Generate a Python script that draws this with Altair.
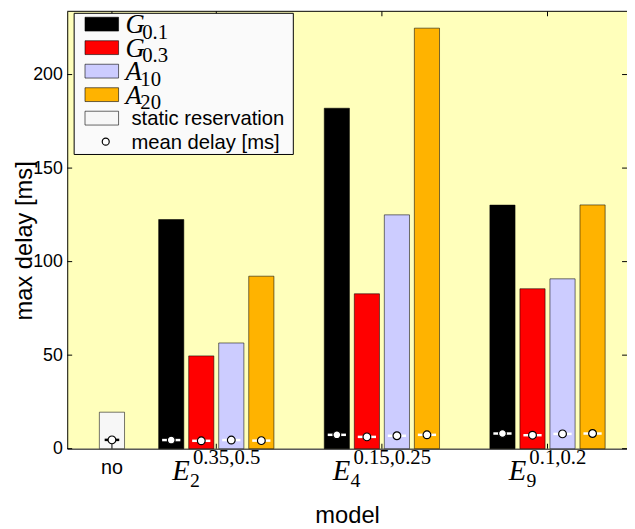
import altair as alt
import pandas as pd

# ---------------- data ----------------
group_sub = ["2", "4", "9"]
group_sup = ["0.35,0.5", "0.15,0.25", "0.1,0.2"]
series = ["G0.1", "G0.3", "A10", "A20"]
series_base = ["G", "G", "A", "A"]
series_subscript = ["0.1", "0.3", "10", "20"]
series_colors = ["#000000", "#FF0000", "#CCCCFF", "#FFB300"]

max_g01 = [122.5, 182.0, 130.2]
max_g03 = [49.6, 82.8, 85.5]
max_a10 = [56.5, 125.0, 90.8]
max_a20 = [92.2, 224.8, 130.3]

mean_g01 = [4.6, 7.4, 8.1]
mean_g03 = [4.2, 6.3, 7.2]
mean_a10 = [4.6, 6.9, 7.9]
mean_a20 = [4.3, 7.4, 8.1]

static_label = "no"
static_name = "static reservation"
static_color = "#F7F7F7"
static_max = 19.5
static_mean = 4.7

mean_name = "mean delay [ms]"
y_ticks = [0, 50, 100, 150, 200]

# ---------------- layout ----------------
W, H = 567, 443
XMIN, XMAX = 0.1, 3.48
YMAX = 233.8
PX = W / (XMAX - XMIN)
group_pos = [1, 2, 3]
static_pos = 0.37
offsets = [-0.272, -0.0906, 0.0906, 0.272]
bar_w = 0.152
err_half = 0.055

SANS = "Liberation Sans"
SERIF = "Liberation Serif"

maxes = [max_g01, max_g03, max_a10, max_a20]
means = [mean_g01, mean_g03, mean_a10, mean_a20]

bar_rows, err_rows = [], []
bar_rows.append({"series": static_name, "x": static_pos - bar_w / 2,
                 "x2": static_pos + bar_w / 2, "y": static_max})
err_rows.append({"x": static_pos - err_half * 0.8, "x2": static_pos + err_half * 0.8,
                 "xc": static_pos, "y": static_mean, "lc": "black"})
for gi, gp in enumerate(group_pos):
    for si, s in enumerate(series):
        c = gp + offsets[si]
        bar_rows.append({"series": s, "x": c - bar_w / 2, "x2": c + bar_w / 2,
                         "y": maxes[si][gi]})
        err_rows.append({"x": c - err_half, "x2": c + err_half, "xc": c,
                         "y": means[si][gi], "lc": "white"})
bars_df = pd.DataFrame(bar_rows)
err_df = pd.DataFrame(err_rows)

x_scale = alt.Scale(domain=[XMIN, XMAX], nice=False, zero=False)
y_scale = alt.Scale(domain=[0, YMAX], nice=False, zero=False)
x_axis = alt.Axis(title="model", labels=False, ticks=False, grid=False,
                  domainColor="black", domainWidth=1,
                  titleFont=SANS, titleFontSize=24, titleFontWeight="normal",
                  titleColor="black", titleY=75, titleBaseline="alphabetic")
y_axis = alt.Axis(title="max delay [ms]", values=y_ticks, ticks=False, tickSize=0,
                  grid=False, domainColor="black", domainWidth=1,
                  labelFont=SANS, labelFontSize=18, labelColor="black", labelPadding=5,
                  titleFont=SANS, titleFontSize=24, titleFontWeight="normal",
                  titleColor="black", titleX=-36, titleY=232,
                  titleBaseline="alphabetic", titleAngle=270, titleAlign="center")

color_scale = alt.Scale(domain=series + [static_name],
                        range=series_colors + [static_color])

bars = alt.Chart(bars_df).mark_bar(stroke="black", strokeOpacity=0.55,
                                   strokeWidth=1).encode(
    x=alt.X("x:Q", scale=x_scale, axis=x_axis),
    x2="x2:Q",
    y=alt.Y("y:Q", scale=y_scale, axis=y_axis),
    y2=alt.datum(0),
    color=alt.Color("series:N", scale=color_scale, legend=None),
)

errs = alt.Chart(err_df).mark_rule(strokeWidth=2.5).encode(
    x=alt.X("x:Q", scale=x_scale, axis=x_axis),
    x2="x2:Q",
    y=alt.Y("y:Q", scale=y_scale, axis=y_axis),
    color=alt.Color("lc:N", scale=None),
)

pts = alt.Chart(err_df).mark_point(shape="circle", filled=True, fill="white",
                                   stroke="black", strokeWidth=1.2, size=62,
                                   opacity=1).encode(
    x=alt.X("xc:Q", scale=x_scale, axis=x_axis),
    y=alt.Y("y:Q", scale=y_scale, axis=y_axis),
)

# inward ticks (matlab style)
ytick_df = pd.DataFrame({"y": y_ticks})
ytick_l = alt.Chart(ytick_df).mark_rule(color="black", strokeWidth=1).encode(
    y=alt.Y("y:Q", scale=y_scale, axis=y_axis), x=alt.value(0), x2=alt.value(5))
ytick_r = alt.Chart(ytick_df).mark_rule(color="black", strokeWidth=1).encode(
    y=alt.Y("y:Q", scale=y_scale, axis=y_axis), x=alt.value(W - 5), x2=alt.value(W))
xtick_df = pd.DataFrame({"x": [static_pos] + group_pos})
xtick_b = alt.Chart(xtick_df).mark_rule(color="black", strokeWidth=1).encode(
    x=alt.X("x:Q", scale=x_scale, axis=x_axis), y=alt.value(H), y2=alt.value(H - 5))
xtick_t = alt.Chart(xtick_df).mark_rule(color="black", strokeWidth=1).encode(
    x=alt.X("x:Q", scale=x_scale, axis=x_axis), y=alt.value(0), y2=alt.value(5))

one = pd.DataFrame({"k": [0]})
top_border = alt.Chart(one).mark_rule(color="black", strokeWidth=1).encode(
    x=alt.value(0), x2=alt.value(W), y=alt.value(0))

# x labels
no_label = alt.Chart(pd.DataFrame({"x": [static_pos], "t": [static_label]})).mark_text(
    font=SANS, fontSize=20, color="black", align="center", baseline="alphabetic"
).encode(x=alt.X("x:Q", scale=x_scale, axis=x_axis), y=alt.value(469), text="t:N")

E_W = 19
SUP_FS = 21
def est_w(s, fs):
    return sum((0.25 if ch in ".," else 0.5) for ch in s) * fs

lab_rows = []
for gp, sb, sp in zip(group_pos, group_sub, group_sup):
    total = E_W + 2 + est_w(sp, SUP_FS)
    e_left = gp - (total / 2) / PX
    e_right = e_left + E_W / PX
    lab_rows.append({"xe": e_left, "xsub": e_right - 1 / PX, "xsup": e_right + 2 / PX,
                     "e": "E", "sub": sb, "sup": sp})
lab_df = pd.DataFrame(lab_rows)
lab_base = alt.Chart(lab_df)
e_txt = lab_base.mark_text(font=SERIF, fontSize=29, fontStyle="italic", color="black",
                           align="left", baseline="alphabetic").encode(
    x=alt.X("xe:Q", scale=x_scale, axis=x_axis), y=alt.value(475), text="e:N")
sub_txt = lab_base.mark_text(font=SERIF, fontSize=20, color="black",
                             align="left", baseline="alphabetic").encode(
    x=alt.X("xsub:Q", scale=x_scale, axis=x_axis), y=alt.value(482), text="sub:N")
sup_txt = lab_base.mark_text(font=SERIF, fontSize=SUP_FS, color="black",
                             align="left", baseline="alphabetic").encode(
    x=alt.X("xsup:Q", scale=x_scale, axis=x_axis), y=alt.value(459), text="sup:N")

# legend
ROW0, ROWSTEP = 13, 23.8
leg_rows = []
names = series + [static_name]
for i, n in enumerate(names):
    yc = ROW0 + i * ROWSTEP
    leg_rows.append({"series": n, "y0": yc - 7, "y1": yc + 7})
leg_df = pd.DataFrame(leg_rows)
leg_box = alt.Chart(one).mark_rect(fill="#FAFAFA", stroke="black", strokeWidth=1).encode(
    x=alt.value(7), x2=alt.value(229), y=alt.value(2), y2=alt.value(145))
leg_sw = alt.Chart(leg_df).mark_rect(stroke="black", strokeOpacity=0.6,
                                     strokeWidth=1).encode(
    x=alt.value(18), x2=alt.value(52),
    y=alt.Y("y0:Q", scale=None, axis=None), y2="y1:Q",
    color=alt.Color("series:N", scale=color_scale, legend=None))

math_df = pd.DataFrame({
    "base": series_base, "sub": series_subscript,
    "yb": [ROW0 + i * ROWSTEP + 9 for i in range(len(series))],
    "ys": [ROW0 + i * ROWSTEP + 15 for i in range(len(series))],
    "xs": [59 + (17 if b == "G" else 15) for b in series_base],
})
leg_base_txt = alt.Chart(math_df).mark_text(font=SERIF, fontSize=27, fontStyle="italic",
                                            color="black", align="left",
                                            baseline="alphabetic").encode(
    x=alt.value(59), y=alt.Y("yb:Q", scale=None, axis=None), text="base:N")
leg_sub_txt = alt.Chart(math_df).mark_text(font=SERIF, fontSize=21, color="black",
                                           align="left", baseline="alphabetic").encode(
    x=alt.X("xs:Q", scale=None, axis=None), y=alt.Y("ys:Q", scale=None, axis=None),
    text="sub:N")
plain_df = pd.DataFrame({"t": [static_name, mean_name],
                         "yb": [ROW0 + 4 * ROWSTEP + 7, ROW0 + 5 * ROWSTEP + 7]})
leg_plain = alt.Chart(plain_df).mark_text(font=SANS, fontSize=20.5, color="black",
                                          align="left", baseline="alphabetic").encode(
    x=alt.value(65), y=alt.Y("yb:Q", scale=None, axis=None), text="t:N")
leg_pt = alt.Chart(one).mark_point(shape="circle", filled=True, fill="white",
                                   stroke="black", strokeWidth=1.2, size=50,
                                   opacity=1).encode(
    x=alt.value(39), y=alt.value(ROW0 + 5 * ROWSTEP))

chart = alt.layer(
    bars, errs, pts, ytick_l, ytick_r, xtick_b, xtick_t, top_border,
    no_label, e_txt, sub_txt, sup_txt,
    leg_box, leg_sw, leg_base_txt, leg_sub_txt, leg_plain, leg_pt,
).properties(
    width=W, height=H,
    autosize=alt.AutoSizeParams(type="none"),
    padding={"left": 60, "top": 0, "right": 0, "bottom": 78},
    background="white",
).configure_view(fill="#FFFFBB", stroke=None)

chart.save("out.html", embed_options={"renderer": "svg", "actions": False})
